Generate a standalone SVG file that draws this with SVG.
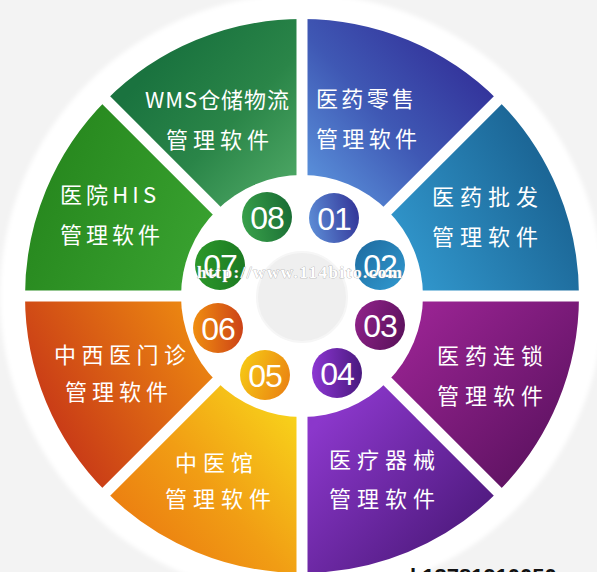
<svg xmlns="http://www.w3.org/2000/svg" width="597" height="572" viewBox="0 0 597 572">
<style>
.lbl{font-family:"Noto Sans CJK SC","Noto Sans",sans-serif;font-size:22px;fill:#ffffff;lengthAdjust:spacing}
.num{font-family:"Liberation Sans",Arial,sans-serif;font-size:32px;fill:#ffffff;text-anchor:middle;letter-spacing:-1px}
.gap{stroke:#ffffff;stroke-width:11;fill:none}
</style>
<defs>
<filter id="soft" x="-5%" y="-5%" width="110%" height="110%"><feGaussianBlur stdDeviation="2"/></filter>
<linearGradient id="g01" gradientUnits="userSpaceOnUse" x1="470" y1="60" x2="320" y2="200"><stop offset="0" stop-color="#33329a"/><stop offset="0.5" stop-color="#3f58b4"/><stop offset="1" stop-color="#5b93dc"/></linearGradient>
<linearGradient id="g02" gradientUnits="userSpaceOnUse" x1="560" y1="200" x2="400" y2="290"><stop offset="0" stop-color="#1c6797"/><stop offset="1" stop-color="#339bd1"/></linearGradient>
<linearGradient id="g03" gradientUnits="userSpaceOnUse" x1="410" y1="310" x2="560" y2="460"><stop offset="0" stop-color="#9b2494"/><stop offset="1" stop-color="#5c1260"/></linearGradient>
<linearGradient id="g04" gradientUnits="userSpaceOnUse" x1="330" y1="410" x2="480" y2="550"><stop offset="0" stop-color="#8b37cb"/><stop offset="1" stop-color="#4a1878"/></linearGradient>
<linearGradient id="g05" gradientUnits="userSpaceOnUse" x1="300" y1="410" x2="150" y2="540"><stop offset="0" stop-color="#f8d51b"/><stop offset="0.6" stop-color="#f19d14"/><stop offset="1" stop-color="#ec8111"/></linearGradient>
<linearGradient id="g06" gradientUnits="userSpaceOnUse" x1="50" y1="420" x2="220" y2="320"><stop offset="0" stop-color="#c93b17"/><stop offset="1" stop-color="#f09010"/></linearGradient>
<linearGradient id="g07" gradientUnits="userSpaceOnUse" x1="40" y1="200" x2="220" y2="280"><stop offset="0" stop-color="#28891f"/><stop offset="1" stop-color="#3ba532"/></linearGradient>
<linearGradient id="g08" gradientUnits="userSpaceOnUse" x1="160" y1="60" x2="295" y2="190"><stop offset="0" stop-color="#1a733f"/><stop offset="0.5" stop-color="#2a8548"/><stop offset="1" stop-color="#4ea865"/></linearGradient>
<linearGradient id="b01" x1="0" y1="0.5" x2="1" y2="0.3"><stop offset="0" stop-color="#5b8ad4"/><stop offset="1" stop-color="#333598"/></linearGradient>
<linearGradient id="b02" x1="0" y1="0" x2="1" y2="1"><stop offset="0" stop-color="#1e6a9e"/><stop offset="1" stop-color="#319ad0"/></linearGradient>
<linearGradient id="b03" x1="0" y1="0.3" x2="1" y2="0.7"><stop offset="0" stop-color="#8e2288"/><stop offset="1" stop-color="#5b115c"/></linearGradient>
<linearGradient id="b04" x1="0" y1="0.5" x2="1" y2="0.5"><stop offset="0" stop-color="#8c36d2"/><stop offset="1" stop-color="#4a197e"/></linearGradient>
<linearGradient id="b05" x1="0" y1="0.3" x2="1" y2="0.7"><stop offset="0" stop-color="#f6c815"/><stop offset="1" stop-color="#ea8312"/></linearGradient>
<linearGradient id="b06" x1="0" y1="0.5" x2="1" y2="0.5"><stop offset="0" stop-color="#f08e10"/><stop offset="1" stop-color="#cc4217"/></linearGradient>
<linearGradient id="b07" x1="0" y1="0.5" x2="1" y2="0.5"><stop offset="0" stop-color="#2c982a"/><stop offset="1" stop-color="#1c7a22"/></linearGradient>
<linearGradient id="b08" x1="0" y1="0.6" x2="1" y2="0.4"><stop offset="0" stop-color="#38a04a"/><stop offset="1" stop-color="#1a6d34"/></linearGradient>
</defs>

<rect width="597" height="572" fill="#f3f3f3"/>
<circle cx="302" cy="296" r="302" fill="#ffffff" filter="url(#soft)"/>

<g id="seg01"><path d="M302,176 L302,19 A277,277 0 0 1 497.87,100.13 L386.85,211.15 A120,120 0 0 0 302,176 Z" fill="url(#g01)"/></g>
<g id="seg02"><path d="M386.85,211.15 L497.87,100.13 A277,277 0 0 1 579,296 L422,296 A120,120 0 0 0 386.85,211.15 Z" fill="url(#g02)"/></g>
<g id="seg03"><path d="M422,296 L579,296 A277,277 0 0 1 497.87,491.87 L386.85,380.85 A120,120 0 0 0 422,296 Z" fill="url(#g03)"/></g>
<g id="seg04"><path d="M386.85,380.85 L497.87,491.87 A277,277 0 0 1 302,573 L302,416 A120,120 0 0 0 386.85,380.85 Z" fill="url(#g04)"/></g>
<g id="seg05"><path d="M302,416 L302,573 A277,277 0 0 1 106.13,491.87 L217.15,380.85 A120,120 0 0 0 302,416 Z" fill="url(#g05)"/></g>
<g id="seg06"><path d="M217.15,380.85 L106.13,491.87 A277,277 0 0 1 25,296 L182,296 A120,120 0 0 0 217.15,380.85 Z" fill="url(#g06)"/></g>
<g id="seg07"><path d="M182,296 L25,296 A277,277 0 0 1 106.13,100.13 L217.15,211.15 A120,120 0 0 0 182,296 Z" fill="url(#g07)"/></g>
<g id="seg08"><path d="M217.15,211.15 L106.13,100.13 A277,277 0 0 1 302,19 L302,176 A120,120 0 0 0 217.15,211.15 Z" fill="url(#g08)"/></g>

<g id="connectors">
<line class="gap" x1="302" y1="12" x2="302" y2="580"/>
<line class="gap" x1="18" y1="296" x2="586" y2="296"/>
<line class="gap" x1="101" y1="95" x2="503" y2="497"/>
<line class="gap" x1="503" y1="95" x2="101" y2="497"/>
</g>
<circle cx="302" cy="296" r="121" fill="#ffffff"/>
<g id="center"><circle cx="302" cy="297" r="45" fill="#efefef" stroke="#f6f6f6" stroke-width="2"/></g>

<g id="badge01"><circle cx="334" cy="218" r="25" fill="url(#b01)"/><text class="num" x="334" y="229.5">01</text></g>
<g id="badge02"><circle cx="380" cy="265" r="25" fill="url(#b02)"/><text class="num" x="380" y="276.5">02</text></g>
<g id="badge03"><circle cx="380" cy="325" r="25" fill="url(#b03)"/><text class="num" x="380" y="336.5">03</text></g>
<g id="badge04"><circle cx="337" cy="373" r="25" fill="url(#b04)"/><text class="num" x="337" y="384.5">04</text></g>
<g id="badge05"><circle cx="265" cy="375" r="25" fill="url(#b05)"/><text class="num" x="265" y="386.5">05</text></g>
<g id="badge06"><circle cx="218" cy="328" r="25" fill="url(#b06)"/><text class="num" x="218" y="339.5">06</text></g>
<g id="badge07"><circle cx="220" cy="265" r="25" fill="url(#b07)"/><text class="num" x="220" y="276.5">07</text></g>
<g id="badge08"><circle cx="267" cy="217" r="25" fill="url(#b08)"/><text class="num" x="267" y="228.5">08</text></g>

<g id="label01"><text class="lbl" x="316" y="107" textLength="98" lengthAdjust="spacing">医药零售</text><text class="lbl" x="316" y="147" textLength="101" lengthAdjust="spacing">管理软件</text></g>
<g id="label02"><text class="lbl" x="432" y="205" textLength="106" lengthAdjust="spacing">医药批发</text><text class="lbl" x="432" y="245" textLength="106" lengthAdjust="spacing">管理软件</text></g>
<g id="label03"><text class="lbl" x="437" y="364" textLength="106" lengthAdjust="spacing">医药连锁</text><text class="lbl" x="437" y="404" textLength="106" lengthAdjust="spacing">管理软件</text></g>
<g id="label04"><text class="lbl" x="329" y="468" textLength="106" lengthAdjust="spacing">医疗器械</text><text class="lbl" x="329" y="507" textLength="106" lengthAdjust="spacing">管理软件</text></g>
<g id="label05"><text class="lbl" x="175" y="471" textLength="78" lengthAdjust="spacing">中医馆</text><text class="lbl" x="165" y="507" textLength="106" lengthAdjust="spacing">管理软件</text></g>
<g id="label06"><text class="lbl" x="54" y="363" textLength="132" lengthAdjust="spacing">中西医门诊</text><text class="lbl" x="65" y="400" textLength="103" lengthAdjust="spacing">管理软件</text></g>
<g id="label07"><text class="lbl" x="60" y="203" textLength="96" lengthAdjust="spacing">医院HIS</text><text class="lbl" x="60" y="243" textLength="100" lengthAdjust="spacing">管理软件</text></g>
<g id="label08"><text class="lbl" x="145" y="108" textLength="144" lengthAdjust="spacing">WMS仓储物流</text><text class="lbl" x="166" y="148" textLength="103" lengthAdjust="spacing">管理软件</text></g>

<text x="197" y="278" font-family="Liberation Serif, serif" font-weight="bold" font-size="17" fill="#ffffff" stroke="#9a9a9a" stroke-width="0.6" paint-order="stroke" textLength="205" lengthAdjust="spacing">http://www.114bito.com</text>
<text x="410" y="584" font-family="Liberation Sans, Arial, sans-serif" font-weight="bold" font-size="22" fill="#111111">l 13781910050</text>
</svg>
